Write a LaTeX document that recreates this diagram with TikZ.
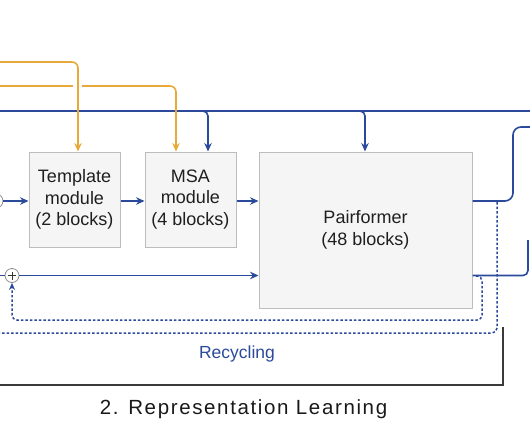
\documentclass[tikz,border=0pt]{standalone}
\usepackage{fontspec}
\setmainfont{Liberation Sans}
\newfontfamily\titlefont[LetterSpace=8]{Liberation Sans}
\usetikzlibrary{arrows.meta}
\definecolor{ablue}{HTML}{2B4A9B}
\definecolor{aorange}{HTML}{E9A93A}
\definecolor{boxfill}{HTML}{F5F5F5}
\definecolor{boxdraw}{HTML}{BDBDBD}
\definecolor{bracketc}{HTML}{3A3A3A}
\begin{document}
\begin{tikzpicture}[x=1pt,y=-1pt,
  module/.style={draw=boxdraw, fill=boxfill, line width=1pt, align=center,
    font=\fontsize{18}{21.5}\selectfont, text=black!88, inner sep=0pt},
  bline/.style={draw=ablue, line width=1.6pt},
  bflow/.style={bline, -{Stealth[length=8.5pt,width=7.5pt]}},
  oline/.style={draw=aorange, line width=1.6pt},
  oflow/.style={oline, -{Stealth[length=8.5pt,width=7.5pt]}},
  dotline/.style={draw=ablue, line width=1.5pt, dash pattern=on 2.5pt off 2pt},
  dotflow/.style={dotline, -{Stealth[length=7pt,width=6pt]}},
  plusnode/.style={circle, draw=black!45, fill=white, line width=0.8pt,
    minimum size=14pt, inner sep=0pt,
    path picture={\draw[black!80, line width=0.8pt]
      (path picture bounding box.center) +(-4,0) -- +(4,0)
      (path picture bounding box.center) +(0,-4) -- +(0,4);}}
]
\useasboundingbox (0,0) rectangle (530,442);

% helper coordinates
\coordinate (x78) at (78,0);
\coordinate (x176) at (176,0);
\coordinate (x208) at (208,0);
\coordinate (x365) at (365,0);
\coordinate (y201) at (0,201);

% modules
\node[module, minimum width=91pt, minimum height=95pt] (tmpl) at (74.5,199.5)
  {Template\\module\\(2 blocks)};
\node[module, minimum width=91pt, minimum height=95pt] (msa) at (190.5,199.5)
  {MSA\\module\\(4 blocks)};
\node[module, minimum width=213pt, minimum height=156pt, font=\fontsize{18}{22}\selectfont] (pf) at (365.5,230)
  {Pairformer\\(48 blocks)};

% sum nodes
\node[plusnode] (c1) at (-4,201) {};
\node[plusnode] (c2) at (12,275.5) {};

% main blue line at top
\coordinate (bl0) at (0,111);
\coordinate (bl1) at (530,111);
\draw[bline] (bl0) -- (bl1);
\coordinate (bb1) at (199,111);
\coordinate (bb2) at (355,111);
\draw[bflow, rounded corners=5pt] (bb1) -| (msa.north -| x208);
\draw[bflow, rounded corners=5pt] (bb2) -| (pf.north -| x365);

% orange lines
\coordinate (o1) at (0,62);
\coordinate (o2a) at (0,86);
\coordinate (o2b) at (73,86);
\coordinate (o2c) at (82,86);
\draw[oflow, rounded corners=6pt] (o1) -| (tmpl.north -| x78);
\draw[oline] (o2a) -- (o2b);
\draw[oflow, rounded corners=6pt] (o2c) -| (msa.north -| x176);

% horizontal flow
\draw[bflow] (c1.east) -- (tmpl.west |- c1);
\draw[bflow] (tmpl.east |- y201) -- (msa.west |- y201);
\draw[bflow] (msa.east |- y201) -- (pf.west |- y201);
\coordinate (l0) at (0,275.5);
\draw[bline] (l0) -- (c2.west);
\draw[bflow] (c2.east) -- (pf.west |- c2);

% outputs
\coordinate (u1) at (513,127);
\coordinate (u2) at (531,127);
\draw[bline, rounded corners=8pt] (pf.east |- y201) -| (u1) -- (u2);
\coordinate (d1) at (528,240);
\draw[bline, rounded corners=5pt] (pf.east |- c2) -| (d1);

% recycling (dotted)
\coordinate (r1) at (476,276);
\coordinate (r2) at (482,320);
\draw[dotflow, rounded corners=5pt] (r1) -| (r2) -| (c2.south);
\coordinate (s1) at (497,202);
\coordinate (s2) at (0,333);
\draw[dotline, rounded corners=5pt] (s1) |- (s2);
\node[text=ablue, font=\fontsize{17.5}{17.5}\selectfont] (rec) at (237,354) {Recycling};

% bracket
\coordinate (k1) at (503,327);
\coordinate (k2) at (0,385);
\draw[bracketc, line width=1.6pt] (k1) |- (k2);

% title
\node[font=\titlefont\fontsize{20.5}{20.5}\selectfont, text=black!90] (title) at (243.5,409)
  {2. Representation Learning};
\end{tikzpicture}
\end{document}
